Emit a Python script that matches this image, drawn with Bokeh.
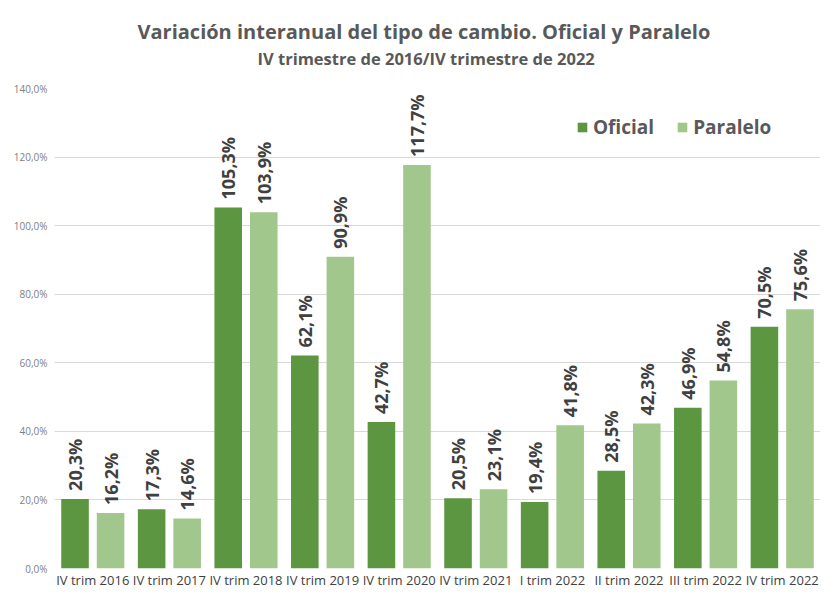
import math
from bokeh.plotting import figure
from bokeh.models import (ColumnDataSource, FactorRange, Range1d, Legend, LegendItem,
                          Title, FixedTicker)
from bokeh.transform import dodge
from bokeh.core.properties import value
from bokeh.embed import file_html
from bokeh.resources import INLINE

categories = ["IV trim 2016", "IV trim 2017", "IV trim 2018", "IV trim 2019", "IV trim 2020",
              "IV trim 2021", "I trim 2022", "II trim 2022", "III trim 2022", "IV trim 2022"]
oficial = [20.3, 17.3, 105.3, 62.1, 42.7, 20.5, 19.4, 28.5, 46.9, 70.5]
paralelo = [16.2, 14.6, 103.9, 90.9, 117.7, 23.1, 41.8, 42.3, 54.8, 75.6]
y_ticks = [0, 20, 40, 60, 80, 100, 120, 140]
y_tick_labels = ["0,0%", "20,0%", "40,0%", "60,0%", "80,0%", "100,0%", "120,0%", "140,0%"]

title_text = "Variación interanual del tipo de cambio. Oficial y Paralelo"
subtitle_text = "IV trimestre de 2016/IV trimestre de 2022"

def fmt(v):
    return f"{v:.1f}%".replace(".", ",")

src = ColumnDataSource(dict(
    cat=categories,
    of=oficial,
    pa=paralelo,
    of_lbl=[fmt(v) for v in oficial],
    pa_lbl=[fmt(v) for v in paralelo],
))

FONT = "Open Sans"
C_OF = "#5D9640"
C_PA = "#A2C78D"

p = figure(x_range=FactorRange(*categories), y_range=Range1d(0, 140),
           width=821, height=591, output_backend="svg", toolbar_location=None,
           min_border_left=54, min_border_right=1, min_border_bottom=20, min_border_top=88)
p.outline_line_color = None
p.background_fill_color = "white"
p.border_fill_color = "white"

# spacer between the plot area and the subtitle
p.add_layout(Title(text=" ", text_font_size="1px", standoff=16), "above")
p.add_layout(Title(text=subtitle_text, align="left", text_font=FONT, text_font_size="16.5px",
                   text_font_style="bold", text_color="#595959", standoff=0, offset=203), "above")
p.add_layout(Title(text=title_text, align="left", text_font=FONT, text_font_size="20px",
                   text_font_style="bold", text_color="#595959", standoff=0, offset=83), "above")

r_of = p.vbar(x=dodge("cat", -0.232, range=p.x_range), top="of", width=0.36, source=src,
              fill_color=C_OF, line_color=None)
r_pa = p.vbar(x=dodge("cat", 0.232, range=p.x_range), top="pa", width=0.36, source=src,
              fill_color=C_PA, line_color=None)

for xo, col in ((-0.232, "of"), (0.232, "pa")):
    p.text(x=dodge("cat", xo, range=p.x_range), y=col, text=col + "_lbl", source=src,
           angle=math.pi / 2, text_align="left", text_baseline="middle",
           x_offset=0, y_offset=-8,
           text_font=value(FONT), text_font_size="18px", text_font_style="bold",
           text_color="#404040")

p.xgrid.grid_line_color = None
p.ygrid.grid_line_color = "#d9d9d9"
p.ygrid.grid_line_width = 1

p.yaxis.ticker = FixedTicker(ticks=y_ticks)
p.yaxis.major_label_overrides = {t: l for t, l in zip(y_ticks, y_tick_labels)}
for ax in (p.xaxis, p.yaxis):
    ax.axis_line_color = None
    ax.major_tick_line_color = None
    ax.minor_tick_line_color = None
    ax.major_tick_out = 0
    ax.major_tick_in = 0
    ax.major_label_text_font = FONT
p.yaxis.major_label_text_font_size = "10px"
p.yaxis.major_label_text_color = "#808080"
p.yaxis.major_label_standoff = 7
p.xaxis.major_label_text_font_size = "13px"
p.xaxis.major_label_text_color = "#404040"
p.xaxis.major_label_standoff = 2

legend = Legend(items=[LegendItem(label="Oficial", renderers=[r_of]),
                       LegendItem(label="Paralelo", renderers=[r_pa])],
                orientation="horizontal", location=(522, 428),
                glyph_width=12, glyph_height=12, label_standoff=5, spacing=22,
                padding=0, margin=0, border_line_color=None, background_fill_alpha=0,
                label_text_font=FONT, label_text_font_size="19px", label_text_font_style="bold",
                label_text_color="#595959")
p.add_layout(legend)

open("out.html", "w").write(file_html(p, INLINE))
